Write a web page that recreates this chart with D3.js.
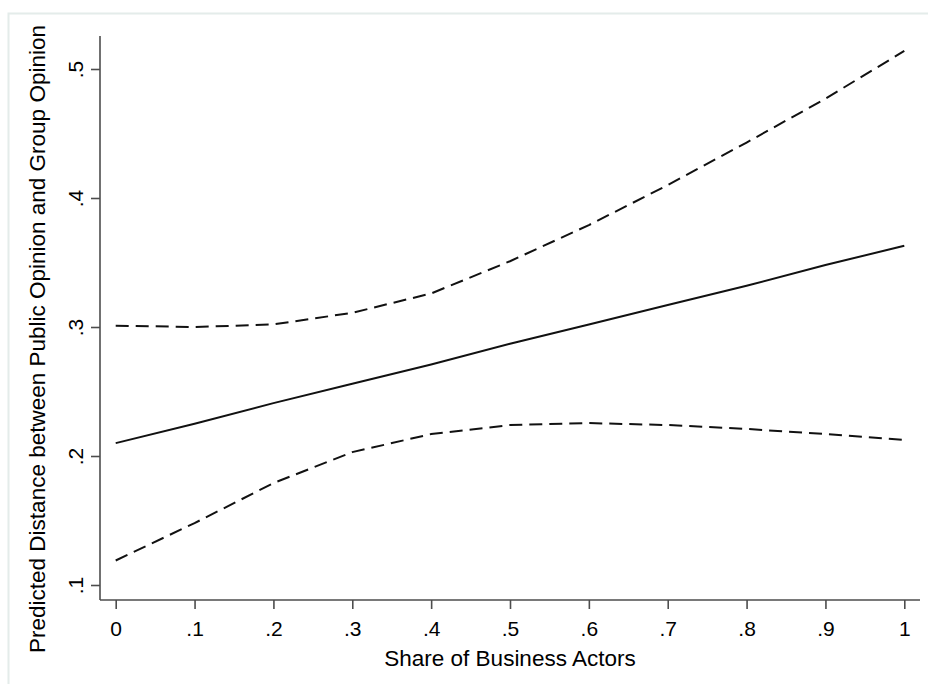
<!DOCTYPE html>
<html>
<head>
<meta charset="utf-8">
<script src="https://cdn.jsdelivr.net/npm/d3@7"></script>
<style>
  html, body { margin: 0; padding: 0; background: #fff; }
  svg { display: block; }
  text { font-family: "Liberation Sans", Arial, sans-serif; fill: #000; }
</style>
</head>
<body>
<div id="chart"></div>
<script>
// Share of business actors (x) and predicted distance with 95% CI
const shares = [0, 0.1, 0.2, 0.3, 0.4, 0.5, 0.6, 0.7, 0.8, 0.9, 1];
const predicted = [0.210, 0.225, 0.241, 0.256, 0.271, 0.287, 0.302, 0.317, 0.332, 0.348, 0.363];
const upperCI = [0.301, 0.300, 0.302, 0.311, 0.326, 0.351, 0.379, 0.410, 0.443, 0.477, 0.514];
const lowerCI = [0.119, 0.148, 0.179, 0.203, 0.217, 0.224, 0.2255, 0.224, 0.221, 0.217, 0.2125];

const xTicks = [0, 0.1, 0.2, 0.3, 0.4, 0.5, 0.6, 0.7, 0.8, 0.9, 1];
const yTicks = [0.1, 0.2, 0.3, 0.4, 0.5];

const width = 928;
const height = 684;

const fmt = (d) => (d === 0 || d === 1 ? String(d) : d3.format('.1f')(d).replace(/^0/, ''));

const svg = d3.select('#chart')
  .append('svg')
  .attr('width', width)
  .attr('height', height);

// faint outer frame (only top/left edges visible)
svg.append('rect')
  .attr('x', 8.5)
  .attr('y', 13.5)
  .attr('width', width + 20)
  .attr('height', height + 20)
  .attr('fill', '#fff')
  .attr('stroke', '#e4ecea')
  .attr('stroke-width', 2);

const x = d3.scaleLinear().domain([0, 1]).range([115.7, 904.3]);
const y = d3.scaleLinear().domain([0.1, 0.5]).range([585, 69]);

const axisColor = '#4d4d4d';

// y axis
const yAxisG = svg.append('g')
  .attr('transform', 'translate(100,0)')
  .call(d3.axisLeft(y).tickValues(yTicks).tickFormat(fmt).tickSizeInner(9).tickSizeOuter(0).tickPadding(8));
yAxisG.select('.domain').remove();
yAxisG.append('line')
  .attr('x1', 0).attr('x2', 0)
  .attr('y1', 36).attr('y2', 600)
  .attr('stroke', axisColor).attr('stroke-width', 1.6);
yAxisG.selectAll('.tick line').attr('stroke', axisColor).attr('stroke-width', 1.6);
yAxisG.selectAll('.tick text')
  .attr('font-size', 21)
  .attr('text-anchor', 'middle')
  .attr('x', null)
  .attr('dy', null)
  .attr('transform', 'translate(-17,0) rotate(-90)')
  .attr('y', 0);

// x axis
const xAxisG = svg.append('g')
  .attr('transform', 'translate(0,600)')
  .call(d3.axisBottom(x).tickValues(xTicks).tickFormat(fmt).tickSizeInner(9).tickSizeOuter(0).tickPadding(8));
xAxisG.select('.domain').remove();
xAxisG.append('line')
  .attr('x1', 100).attr('x2', 920)
  .attr('y1', 0).attr('y2', 0)
  .attr('stroke', axisColor).attr('stroke-width', 1.6);
xAxisG.selectAll('.tick line').attr('stroke', axisColor).attr('stroke-width', 1.6);
xAxisG.selectAll('.tick text')
  .attr('font-size', 21)
  .attr('dy', null)
  .attr('y', 36);

// axis titles
svg.append('text')
  .attr('x', 510)
  .attr('y', 666)
  .attr('text-anchor', 'middle')
  .attr('font-size', 22.5)
  .text('Share of Business Actors');

svg.append('text')
  .attr('transform', 'translate(45,339) rotate(-90)')
  .attr('text-anchor', 'middle')
  .attr('font-size', 22.5)
  .text('Predicted Distance between Public Opinion and Group Opinion');

// lines
const line = (vals) => d3.line()
  .x((d, i) => x(shares[i]))
  .y((d) => y(d))(vals);

svg.append('path')
  .attr('d', line(upperCI))
  .attr('fill', 'none')
  .attr('stroke', '#111')
  .attr('stroke-width', 2)
  .attr('stroke-dasharray', '13 7');

svg.append('path')
  .attr('d', line(lowerCI))
  .attr('fill', 'none')
  .attr('stroke', '#111')
  .attr('stroke-width', 2)
  .attr('stroke-dasharray', '13 7');

svg.append('path')
  .attr('d', line(predicted))
  .attr('fill', 'none')
  .attr('stroke', '#111')
  .attr('stroke-width', 2);
</script>
</body>
</html>
